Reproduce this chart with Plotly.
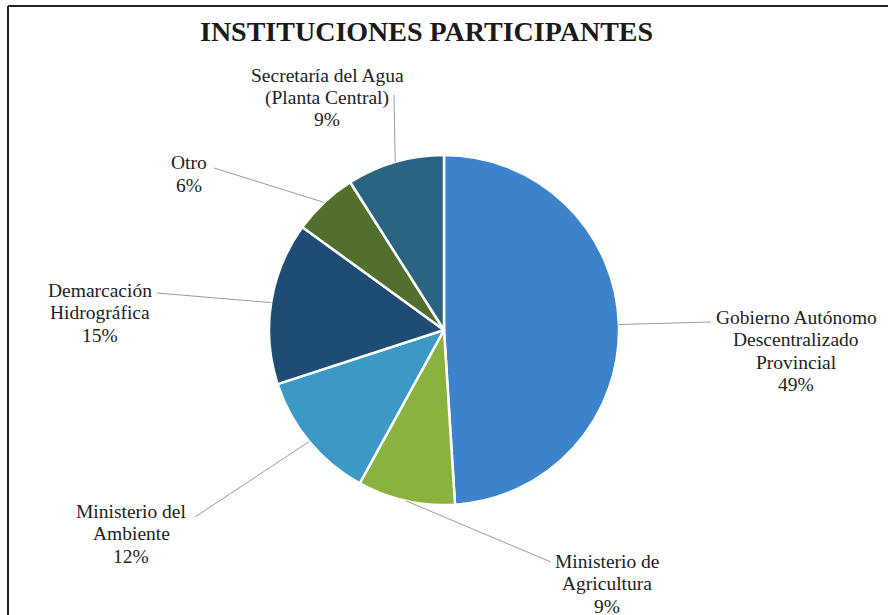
import math
import plotly.graph_objects as go

# ---- data ----
categories = [
    "Gobierno Autónomo<br>Descentralizado<br>Provincial",
    "Ministerio de<br>Agricultura",
    "Ministerio del<br>Ambiente",
    "Demarcación<br>Hidrográfica",
    "Otro",
    "Secretaría del Agua<br>(Planta Central)",
]
values = [49, 9, 12, 15, 6, 9]
pct_labels = ["49%", "9%", "12%", "15%", "6%", "9%"]

# ---- style / layout ----
colors = ["#3C83CC", "#8AB23E", "#3C99C6", "#1E4C75", "#536F2E", "#2A6482"]
W, H = 888, 615
CX, CY, R = 444, 330, 175
FONT = "Liberation Serif, Times New Roman, serif"
LABEL_SIZE = 19.5
LINE_STEP = 22.5
# label centre x and first-line y, and leader-line end points (pixels)
label_anchor = [(796, 317), (607, 561), (131, 511), (100, 290), (189, 163), (327, 75)]
line_ends = [(711, 322), (551, 562), (195, 517), (157, 293), (214, 168), (394, 95)]


def px(x):
    return x / W


def py(y):
    return 1 - y / H


fig = go.Figure()
fig.add_trace(go.Pie(
    labels=[c.replace("<br>", " ") for c in categories],
    values=values,
    sort=False,
    direction="clockwise",
    rotation=0,
    textinfo="none",
    hoverinfo="label+percent",
    marker=dict(colors=colors, line=dict(color="white", width=2.5)),
    domain=dict(x=[px(CX - R), px(CX + R)], y=[py(CY + R), py(CY - R)]),
    showlegend=False,
))

shapes = []
annotations = []
total = sum(values)
cum = 0
for i, v in enumerate(values):
    mid = (cum + v / 2) / total * 2 * math.pi
    cum += v
    ex = CX + R * math.sin(mid)
    ey = CY - R * math.cos(mid)
    lx, ly = line_ends[i]
    shapes.append(dict(type="line", xref="paper", yref="paper",
                       x0=px(ex), y0=py(ey), x1=px(lx), y1=py(ly),
                       line=dict(color="#9a9a9a", width=1)))
    cx, cy = label_anchor[i]
    lines = categories[i].split("<br>") + [pct_labels[i]]
    for k, t in enumerate(lines):
        annotations.append(dict(
            x=px(cx), y=py(cy + k * LINE_STEP), xref="paper", yref="paper",
            text=t, showarrow=False, xanchor="center", yanchor="middle",
            font=dict(family=FONT, size=LABEL_SIZE, color="#222222"),
        ))

annotations.append(dict(
    x=px(426), y=py(32), xref="paper", yref="paper",
    text="<b>INSTITUCIONES PARTICIPANTES</b>", showarrow=False,
    xanchor="center", yanchor="middle",
    font=dict(family=FONT, size=28, color="#1a1a1a"),
))

# frame (left and top edges visible)
shapes.append(dict(type="line", xref="paper", yref="paper",
                   x0=px(8), y0=py(6), x1=px(8), y1=py(620),
                   line=dict(color="#222222", width=2)))
shapes.append(dict(type="line", xref="paper", yref="paper",
                   x0=px(8), y0=py(6), x1=px(900), y1=py(6),
                   line=dict(color="#222222", width=2)))

fig.update_layout(
    width=W, height=H,
    margin=dict(l=0, r=0, t=0, b=0),
    paper_bgcolor="white", plot_bgcolor="white",
    shapes=shapes, annotations=annotations,
)
fig.write_html("out.html", config={"displayModeBar": False},
               post_script="document.body.style.margin='0px';")
